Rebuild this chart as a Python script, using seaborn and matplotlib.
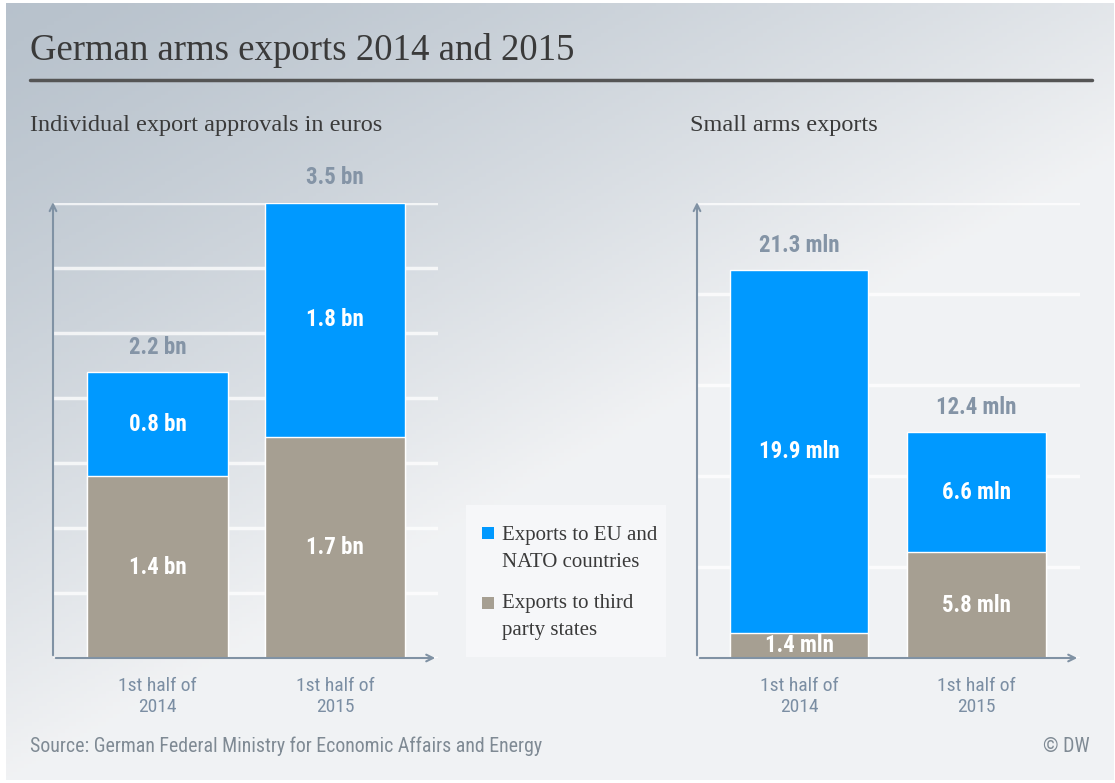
import numpy as np
import pandas as pd
import seaborn as sns
import matplotlib.pyplot as plt
from matplotlib.patches import Rectangle
from matplotlib.lines import Line2D

periods = ['1st half of\n2014', '1st half of\n2015']
approvals_eu = [0.8, 1.8]        # bn euros, EU and NATO countries
approvals_third = [1.4, 1.7]     # bn euros, third party states
approvals_total = [2.2, 3.5]
small_eu = [19.9, 6.6]           # mln euros
small_third = [1.4, 5.8]
small_total = [21.3, 12.4]

blue = '#0099ff'
tan = '#a69f92'
grey_txt = '#8494a6'
tick_col = '#7b8ea3'
axis_col = '#8092a4'

sns.set_theme(style='white')
narrow = ['Roboto Condensed', 'Liberation Sans Narrow', 'Liberation Sans', 'DejaVu Sans']
serif = ['Liberation Serif', 'DejaVu Serif']
plt.rcParams['font.family'] = narrow

W, H = 1115, 783
fig = plt.figure(figsize=(W / 100, H / 100), dpi=100)
fig.patch.set_facecolor('white')

# background gradient, dark top-left to light bottom-right
bg = fig.add_axes([6 / W, 3 / H, 1108 / W, 777 / H], zorder=-10)
xx, yy = np.meshgrid(np.linspace(0, 1, 300), np.linspace(0, 1, 200))
t = np.clip(0.8 * xx + 1.0 * yy, 0, 1) ** 1.3
c0 = np.array([0.72, 0.76, 0.80])
c1 = np.array([0.945, 0.95, 0.957])
img = c0[None, None, :] * (1 - t[..., None]) + c1[None, None, :] * t[..., None]
bg.imshow(img, aspect='auto', extent=[0, 1, 1, 0])
bg.set_axis_off()

fig.text(30 / W, 1 - 50 / H, 'German arms exports 2014 and 2015', family=serif,
         fontsize=26.5, color='#3a3a3a', va='center')
fig.add_artist(Line2D([30 / W, 1092 / W], [1 - 80 / H, 1 - 80 / H], color='#555555', lw=2.5))
fig.text(30 / W, 1 - 125 / H, 'Individual export approvals in euros', family=serif,
         fontsize=17.5, color='#3a3a3a', va='center')
fig.text(690 / W, 1 - 125 / H, 'Small arms exports', family=serif,
         fontsize=17.5, color='#3a3a3a', va='center')


def stacked(ax, total, third, eu, ymax, step, unit, left_px, right_px, c0_px, width):
    df = pd.DataFrame({'period': periods, 'total': total, 'third': third})
    sns.barplot(data=df, x='period', y='total', color=blue, saturation=1, width=width,
                errorbar=None, ax=ax, zorder=2)
    sns.barplot(data=df, x='period', y='third', color=tan, saturation=1, width=width,
                errorbar=None, ax=ax, zorder=3)
    ax.set_facecolor('none')
    ax.set_ylim(0, ymax)
    ax.set_xlim(-(c0_px - left_px) / 177.5, 1 + (right_px - c0_px - 177.5) / 177.5)
    ax.set_yticks(np.arange(0, ymax + step / 2, step))
    ax.set_yticklabels([])
    ax.yaxis.grid(True, color='white', lw=2.5, alpha=0.75)
    ax.set_axisbelow(True)
    for s in ax.spines.values():
        s.set_visible(False)
    ax.set_xlabel('')
    ax.set_ylabel('')
    ax.tick_params(axis='both', length=0)
    ax.tick_params(axis='x', pad=14, labelsize=14, labelcolor=tick_col)
    ax.annotate('', xy=(0, 1.008), xytext=(0, 0), xycoords='axes fraction',
                arrowprops=dict(arrowstyle='->', color=axis_col, lw=1.5))
    ax.annotate('', xy=(1, 0), xytext=(0, 0), xycoords='axes fraction',
                arrowprops=dict(arrowstyle='->', color=axis_col, lw=1.5))
    for i in range(len(periods)):
        ax.annotate(f'{total[i]} {unit}', (i, total[i]), xytext=(0, 18),
                    textcoords='offset points', ha='center', va='center',
                    fontsize=16.5, fontweight='bold', color=grey_txt)
        ax.text(i, third[i] + eu[i] / 2, f'{eu[i]} {unit}', ha='center', va='center',
                fontsize=16.5, fontweight='bold', color='white', zorder=5)
        ax.text(i, third[i] / 2, f'{third[i]} {unit}', ha='center', va='center',
                fontsize=16.5, fontweight='bold', color='white', zorder=5)


ax1 = fig.add_axes([53 / W, 1 - 658 / H, 385 / W, 455 / H])
stacked(ax1, approvals_total, approvals_third, approvals_eu, 3.5, 0.5, 'bn',
        53, 438, 157.5, 0.794)

ax2 = fig.add_axes([697 / W, 1 - 658 / H, 383 / W, 455 / H])
stacked(ax2, small_total, small_third, small_eu, 25, 5, 'mln',
        697, 1080, 799, 0.78)

# legend box
fig.add_artist(Rectangle((466 / W, 1 - 657 / H), 200 / W, 152 / H,
                         transform=fig.transFigure, facecolor='#f6f7f9', edgecolor='none'))
fig.add_artist(Rectangle((482 / W, 1 - 539 / H), 12 / W, 12 / H,
                         transform=fig.transFigure, facecolor=blue, edgecolor='none'))
fig.add_artist(Rectangle((482 / W, 1 - 609 / H), 12 / W, 12 / H,
                         transform=fig.transFigure, facecolor=tan, edgecolor='none'))
fig.text(502 / W, 1 - 549 / H, 'Exports to EU and\nNATO countries', family=serif,
         fontsize=15, color='#3a3a3a', va='center', linespacing=1.55)
fig.text(502 / W, 1 - 617 / H, 'Exports to third\nparty states', family=serif,
         fontsize=15, color='#3a3a3a', va='center', linespacing=1.55)

fig.text(30 / W, 1 - 746 / H, 'Source: German Federal Ministry for Economic Affairs and Energy',
         fontsize=14.3, color='#7f8a94', va='center')
fig.text(1090 / W, 1 - 746 / H, '© DW', fontsize=14.3, color='#7f8a94', va='center', ha='right')

fig.savefig('out.png', dpi=100)
